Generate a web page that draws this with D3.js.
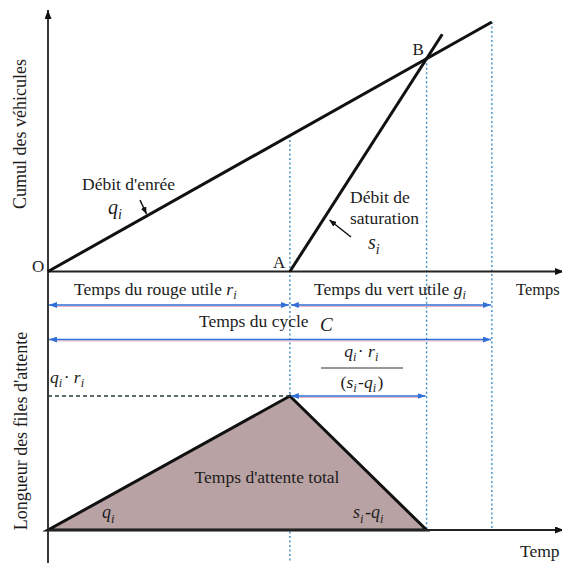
<!DOCTYPE html>
<html>
<head>
<meta charset="utf-8">
<script src="https://cdn.jsdelivr.net/npm/d3@7"></script>
<style>
  body { margin: 0; background: #fff; }
  text { font-family: "Liberation Serif", "Times New Roman", serif; fill: #1c1c1c; }
</style>
</head>
<body>
<div id="chart"></div>
<script>
// phases du feu (unités de temps)
var phaseNames = ["Temps du rouge utile", "Temps du vert utile"];
var phaseDurations = [40, 33.4];          // r_i, g_i
// débits (véhicules par unité de temps)
var flowNames = ["Débit d'enrée", "Débit de saturation"];
var flowRates = [0.65, 1.8];              // q_i, s_i
var satEnd = 65.2;                        // fin du tracé de la droite de saturation
var axisLabels = ["Cumul des véhicules", "Longueur des files d'attente", "Temps"];

var W = 562, H = 563;
var x0 = 48, yAxisTop = 271.5, yAxisBot = 530;

var r = phaseDurations[0], C = phaseDurations[0] + phaseDurations[1];
var q = flowRates[0], s = flowRates[1];
var tB = s * r / (s - q);                 // instant où la file se vide (point B)
var qr = q * r;                           // file maximale

var x = d3.scaleLinear().domain([0, 85]).range([x0, W]);
var yTop = d3.scaleLinear().domain([0, 50]).range([yAxisTop, 10]);
var yBot = d3.scaleLinear().domain([0, 52]).range([yAxisBot, 262]);

var svg = d3.select("#chart").append("svg")
  .attr("width", W).attr("height", H);

var defs = svg.append("defs");
function marker(id, color, len, half){
  defs.append("marker")
    .attr("id", id)
    .attr("markerUnits", "userSpaceOnUse")
    .attr("viewBox", "0 0 " + len + " " + (half*2))
    .attr("refX", len).attr("refY", half)
    .attr("markerWidth", len).attr("markerHeight", half*2)
    .attr("orient", "auto-start-reverse")
    .append("path")
    .attr("d", "M0,0L" + len + "," + half + "L0," + (half*2) + "Z")
    .style("fill", color);
}
marker("blueHead", "#2f6fd6", 8, 3);
marker("blackHead", "#111", 9, 3.5);
marker("ptrHead", "#111", 7, 3);

var blue = "#2f6fd6", dotted = "#3b8cc4";

// verticales pointillées
var vlines = [
  {t: r,  y1: yTop(q * r), y2: H},
  {t: tB, y1: yTop(q * tB), y2: yAxisBot},
  {t: C,  y1: yTop(q * C), y2: yAxisBot - 2}
];
svg.selectAll(".vdot").data(vlines).enter().append("line")
  .attr("class", "vdot")
  .attr("x1", function(d){ return x(d.t); })
  .attr("x2", function(d){ return x(d.t); })
  .attr("y1", function(d){ return d.y1; })
  .attr("y2", function(d){ return d.y2; })
  .style("stroke", dotted)
  .style("stroke-width", 1.4)
  .style("stroke-dasharray", "2,2.5");

// triangle de la file d'attente
var queue = [[0, 0], [r, qr], [tB, 0]];
svg.append("path")
  .attr("d", d3.line().x(function(d){ return x(d[0]); }).y(function(d){ return yBot(d[1]); })(queue) + "Z")
  .style("fill", "#b9a2a3")
  .style("stroke", "#111")
  .style("stroke-width", 3)
  .style("stroke-linejoin", "miter");

// axes
svg.append("line")
  .attr("x1", x0).attr("x2", x0).attr("y1", H).attr("y2", 10)
  .style("stroke", "#222").style("stroke-width", 1.8)
  .attr("marker-end", "url(#blackHead)");
[yAxisTop, yAxisBot].forEach(function(yy){
  svg.append("line")
    .attr("x1", x0).attr("x2", W + 2).attr("y1", yy).attr("y2", yy)
    .style("stroke", "#222").style("stroke-width", 1.8)
    .attr("marker-end", "url(#blackHead)");
});

// ligne pointillée q_i·r_i
svg.append("line")
  .attr("x1", x0).attr("x2", x(r)).attr("y1", yBot(qr)).attr("y2", yBot(qr))
  .style("stroke", "#2b3a40").style("stroke-width", 1.5)
  .style("stroke-dasharray", "4,3");

// courbes cumulées
var lineGen = d3.line().x(function(d){ return x(d[0]); }).y(function(d){ return yTop(d[1]); });
svg.append("path")
  .attr("d", lineGen([[0, 0], [C, q * C]]))
  .style("fill", "none").style("stroke", "#111").style("stroke-width", 3);
svg.append("path")
  .attr("d", lineGen([[r, 0], [satEnd, s * (satEnd - r)]]))
  .style("fill", "none").style("stroke", "#111").style("stroke-width", 3);

// flèches bleues
var spans = [
  {a: 0, b: r,  y: 305},
  {a: r, b: C,  y: 305},
  {a: 0, b: C,  y: 339.5},
  {a: r, b: tB, y: yBot(qr)}
];
svg.selectAll(".shadow").data(spans).enter().append("line")
  .attr("x1", function(d){ return x(d.a) + 6; })
  .attr("x2", function(d){ return x(d.b) - 6; })
  .attr("y1", function(d){ return d.y + 1.5; })
  .attr("y2", function(d){ return d.y + 1.5; })
  .style("stroke", "#eeb0bd").style("stroke-width", 1);
svg.selectAll(".span").data(spans).enter().append("line")
  .attr("x1", function(d){ return x(d.a) + 1; })
  .attr("x2", function(d){ return x(d.b) - 1; })
  .attr("y1", function(d){ return d.y; })
  .attr("y2", function(d){ return d.y; })
  .style("stroke", blue).style("stroke-width", 1.5)
  .attr("marker-start", "url(#blueHead)")
  .attr("marker-end", "url(#blueHead)");

// flèches d'annotation des débits
svg.append("line")
  .attr("x1", 140).attr("y1", 200).attr("x2", 146.5).attr("y2", 214)
  .style("stroke", "#111").style("stroke-width", 1.5)
  .attr("marker-end", "url(#ptrHead)");
svg.append("line")
  .attr("x1", 351).attr("y1", 237).attr("x2", 329.5).attr("y2", 220)
  .style("stroke", "#111").style("stroke-width", 1.5)
  .attr("marker-end", "url(#ptrHead)");

// textes
function label(px, py, str, size, anchor){
  return svg.append("text").attr("x", px).attr("y", py)
    .attr("text-anchor", anchor || "start")
    .style("font-size", size + "px").text(str);
}
// symbole italique, avec indice i si demandé
function sym(t, p, size){
  t.append("tspan").style("font-style", "italic").text(p[0]);
  if (p[1]) {
    t.append("tspan").style("font-style", "italic").style("font-size", (size * 0.7) + "px")
      .attr("dy", size * 0.25).text(p[1]);
    t.append("tspan").attr("dy", -size * 0.25).text("\u200a");
  }
}
function mathText(px, py, parts, size, anchor){
  var t = svg.append("text").attr("x", px).attr("y", py)
    .attr("text-anchor", anchor || "start")
    .style("font-size", size + "px");
  parts.forEach(function(p){
    if (typeof p === "string") t.append("tspan").text(p);
    else sym(t, p, size);
  });
  return t;
}

svg.append("text")
  .attr("transform", "translate(26,134) rotate(-90)")
  .attr("text-anchor", "middle").style("font-size", "18px").text(axisLabels[0]);
svg.append("text")
  .attr("transform", "translate(27,431) rotate(-90)")
  .attr("text-anchor", "middle").style("font-size", "18px").text(axisLabels[1]);

label(32, 272, "O", 17);
label(x(r) - 17, 268, "A", 17);
label(x(tB) - 14, 55, "B", 17);

label(82, 190, flowNames[0], 17.5);
mathText(108, 214, [["q", "i"]], 20);
label(350, 203, "Débit de", 17.5);
label(350, 224, "saturation", 17.5);
mathText(368, 249, [["s", "i"]], 20);

mathText(74, 295, [phaseNames[0] + " ", ["r", "i"]], 17.5);
mathText(314, 295, [phaseNames[1] + " ", ["g", "i"]], 17.5);
label(516, 295, axisLabels[2], 16.5);
label(199, 327, "Temps du cycle", 17.5);
mathText(320, 331, [["C"]], 19);

mathText(50, 383, [["q", "i"], "\u00b7 ", ["r", "i"]], 17.5);
mathText(362, 357, [["q", "i"], "\u00b7 ", ["r", "i"]], 17.5, "middle");
svg.append("line").attr("x1", 321).attr("x2", 403).attr("y1", 368).attr("y2", 368)
  .style("stroke", "#333").style("stroke-width", 1.2);
mathText(362, 388, ["(", ["s", "i"], "-", ["q", "i"], ")"], 17.5, "middle");

label(267, 483, "Temps d'attente total", 17.5, "middle");
mathText(102, 518, [["q", "i"]], 18);
mathText(353, 518, [["s", "i"], "-", ["q", "i"]], 18);
label(520, 557, "Temp", 17.5);
</script>
</body>
</html>
